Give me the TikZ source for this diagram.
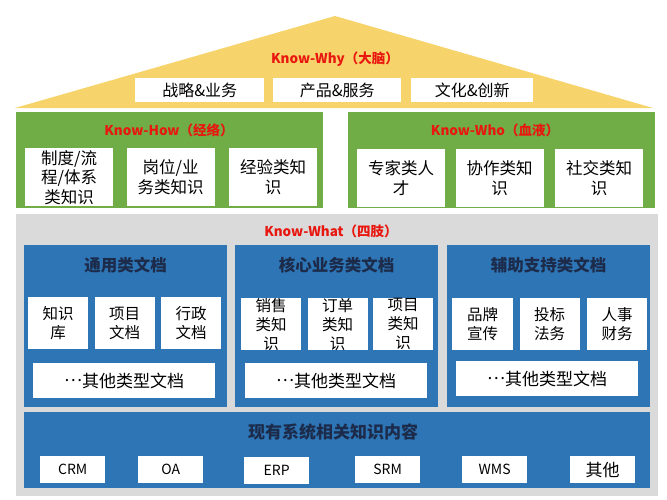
\documentclass[tikz,border=0pt]{standalone}
\usepackage{fontspec}
\setmainfont{Noto Sans CJK SC}
\usepackage{tikz}
\usetikzlibrary{positioning}
\definecolor{KmGold}{HTML}{F7D36B}
\definecolor{KmGreen}{HTML}{70AD47}
\definecolor{KmGray}{HTML}{DADADA}
\definecolor{KmBlue}{HTML}{2E75B6}
\definecolor{KmRed}{HTML}{E8170F}
\definecolor{KmNavy}{HTML}{1C2B4A}
\newcommand{\middots}{\raisebox{0.33em}{…}}

\begin{document}
\begin{tikzpicture}[
    x=1pt,y=-1pt,
    node distance=6pt,
    panel/.style={anchor=north west,inner sep=0pt},
    greenpanel/.style={panel,fill=KmGreen,minimum width=307pt,minimum height=96pt},
    bluepanel/.style={panel,fill=KmBlue,minimum width=203pt,minimum height=162pt},
    whitebox/.style={panel,fill=white,align=center},
    roofbox/.style={whitebox,minimum height=24pt,font=\fontsize{16}{18}\selectfont},
    knowbox/.style={whitebox,minimum width=88pt,minimum height=58pt,font=\fontsize{16.5}{19.5}\selectfont},
    card/.style={whitebox,minimum width=60pt,minimum height=52pt,font=\fontsize{15.5}{19}\selectfont},
    otherbox/.style={whitebox,minimum width=182pt,minimum height=35pt,font=\fontsize{17}{19}\selectfont},
    sysbox/.style={whitebox,minimum width=65pt,minimum height=27pt,font=\fontsize{14}{16}\selectfont},
    redtitle/.style={text=KmRed,font=\bfseries\fontsize{13.5}{16}\selectfont},
    bluetitle/.style={text=KmNavy,font=\bfseries\fontsize{16.5}{18}\selectfont}
  ]
  \fill[white] (0,0) rectangle (667,499);
  \useasboundingbox (0,0) rectangle (667,499);

  % roof: Know-Why
  \fill[KmGold] (335,16) -- (653,108) -- (15,108) -- cycle;
  \node[redtitle] (why) at (335,59) {Know-Why（大脑）};
  \node[roofbox,minimum width=129pt] (strat) at (135,78) {战略\&业务};
  \node[roofbox,minimum width=128pt] (prod) at (273,78) {产品\&服务};
  \node[roofbox,minimum width=122pt] (cult) at (411,78) {文化\&创新};

  % Know-How / Know-Who
  \node[greenpanel] (howp) at (16,112) {};
  \node[redtitle] (how) at (169,130) {Know-How（经络）};
  \node[knowbox] (rule) at (25,148) {制度/流\\程/体系\\类知识};
  \node[knowbox,right=13pt of rule] (post) {岗位/业\\务类知识};
  \node[knowbox,right=14pt of post] (exp) {经验类知\\识};

  \node[greenpanel,minimum width=307pt] (whop) at (348,112) {};
  \node[redtitle] (who) at (495,130) {Know-Who（血液）};
  \node[knowbox] (expert) at (357,149) {专家类人\\才};
  \node[knowbox,right=10pt of expert] (coop) {协作类知\\识};
  \node[knowbox,right=11pt of coop] (social) {社交类知\\识};

  % Know-What
  \node[panel,fill=KmGray,minimum width=642pt,minimum height=282pt] (whatp) at (16,214) {};
  \node[redtitle] (what) at (331,231) {Know-What（四肢）};

  \node[bluepanel] (gen) at (24,245) {};
  \node[bluetitle,below=9pt of gen.north] (gent) {通用类文档};
  \node[card] (kb) at (28,297) {知识\\库};
  \node[card,right=of kb] (proj) {项目\\文档};
  \node[card,right=of proj] (admin) {行政\\文档};
  \node[otherbox] (geno) at (33,363) {\middots 其他类型文档};

  \node[bluepanel] (core) at (235,245) {};
  \node[bluetitle,below=9pt of core.north] (coret) {核心业务类文档};
  \node[card] (sale) at (241,298) {销售\\类知\\识};
  \node[card,right=of sale] (order) {订单\\类知\\识};
  \node[card,right=5pt of order] (item) {项目\\类知\\识};
  \node[otherbox] (coreo) at (245,363) {\middots 其他类型文档};

  \node[bluepanel] (aux) at (447,245) {};
  \node[bluetitle,below=9pt of aux.north] (auxt) {辅助支持类文档};
  \node[card,minimum width=61pt] (brand) at (452,298) {品牌\\宣传};
  \node[card,right=of brand] (bid) {投标\\法务};
  \node[card,right=7pt of bid] (hr) {人事\\财务};
  \node[otherbox] (auxo) at (456,361) {\middots 其他类型文档};

  % existing systems
  \node[panel,fill=KmBlue,minimum width=626pt,minimum height=76pt] (sysp) at (24,412) {};
  \node[text=KmNavy,font=\bfseries\fontsize{17}{19}\selectfont] (syst) at (333,432) {现有系统相关知识内容};
  \node[sysbox] (crm) at (40,456) {CRM};
  \node[sysbox] (oa) at (138,456) {OA};
  \node[sysbox] (erp) at (244,457) {ERP};
  \node[sysbox] (srm) at (355,456) {SRM};
  \node[sysbox] (wms) at (462,456) {WMS};
  \node[sysbox,font=\fontsize{17}{19}\selectfont] (misc) at (570,456) {其他};
\end{tikzpicture}
\end{document}
